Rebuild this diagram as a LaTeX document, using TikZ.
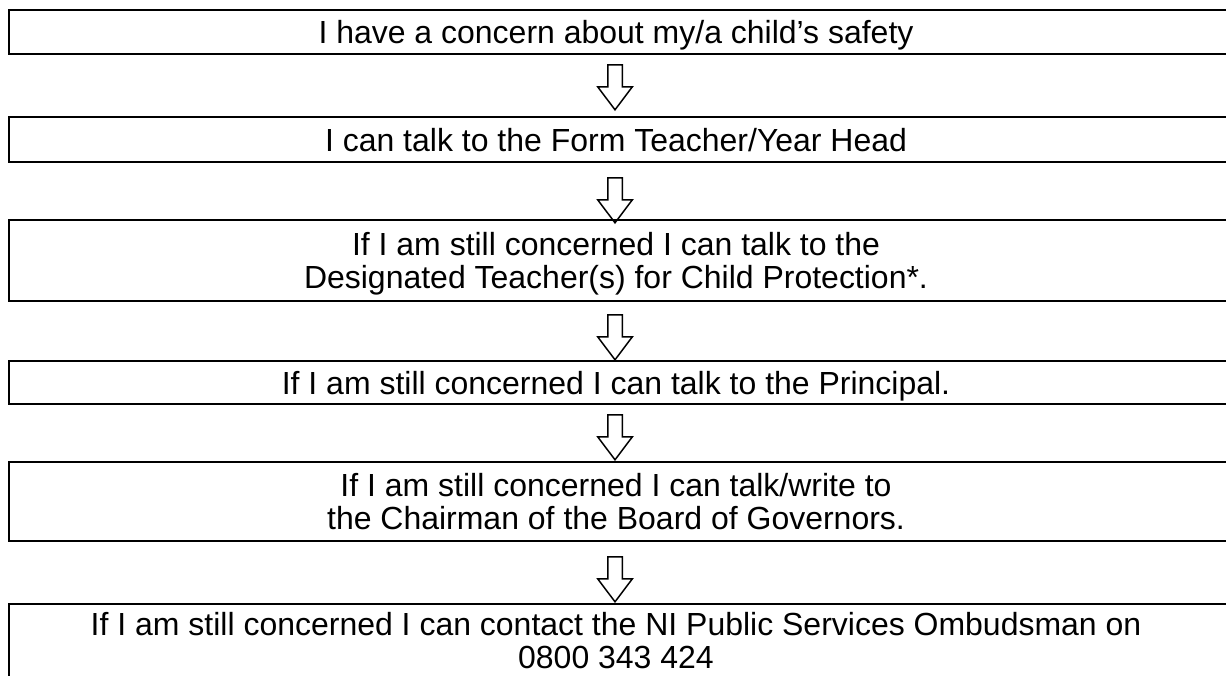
\documentclass[tikz,border=0pt]{standalone}
\usepackage{fontspec}
\setmainfont{Liberation Sans}
\usetikzlibrary{shapes.arrows}

\begin{document}
\begin{tikzpicture}[
			font=\fontsize{18.2pt}{18.8pt}\selectfont,
			box/.style={minimum width=24.28cm, inner sep=0pt, align=center, text depth=0pt},
			frame/.style={line width=1.2pt},
			downarrow/.style={draw, line width=0.85pt, shape=single arrow, rotate=-90, minimum height=0.9cm, inner xsep=0pt, inner ysep=0.13cm, single arrow head extend=0.2cm, single arrow tip angle=74, single arrow head indent=0pt}
			]
			
			\useasboundingbox (0,0) rectangle (24.52,-13.52);
			
			\node[box, minimum height=0.88cm] (concern) at (12.32,-0.64) {I have a concern about my/a child’s safety};
			\node[box, minimum height=0.9cm] (teacher) at (12.32,-2.79) {I can talk to the Form Teacher/Year Head};
			\node[box, minimum height=1.62cm] (designated) at (12.32,-5.21) {If I am still concerned I can talk to the\\ Designated Teacher(s) for Child Protection*.};
			\node[box, minimum height=0.86cm] (principal) at (12.32,-7.65) {If I am still concerned I can talk to the Principal.};
			\node[box, minimum height=1.58cm] (chairman) at (12.32,-10.03) {If I am still concerned I can talk/write to\\ the Chairman of the Board of Governors.};
			\node[box, minimum height=1.6cm, text depth=0.16cm] (ombudsman) at (12.32,-12.88) {If I am still concerned I can contact the NI Public Services Ombudsman on\\ 0800 343 424};
			
			% boxes run off the right-hand edge
			\foreach \b in {concern, teacher, designated, principal, chairman, ombudsman}
				\draw[frame] (\b.north west) rectangle ([xshift=1cm]\b.south east);
			
			\node[downarrow] (step1) at (12.3,-1.65) {};
			\node[downarrow] (step2) at (12.3,-3.91) {};
			\node[downarrow] (step3) at (12.3,-6.65) {};
			\node[downarrow] (step4) at (12.3,-8.65) {};
			\node[downarrow] (step5) at (12.3,-11.49) {};
			
		\end{tikzpicture}
\end{document}
